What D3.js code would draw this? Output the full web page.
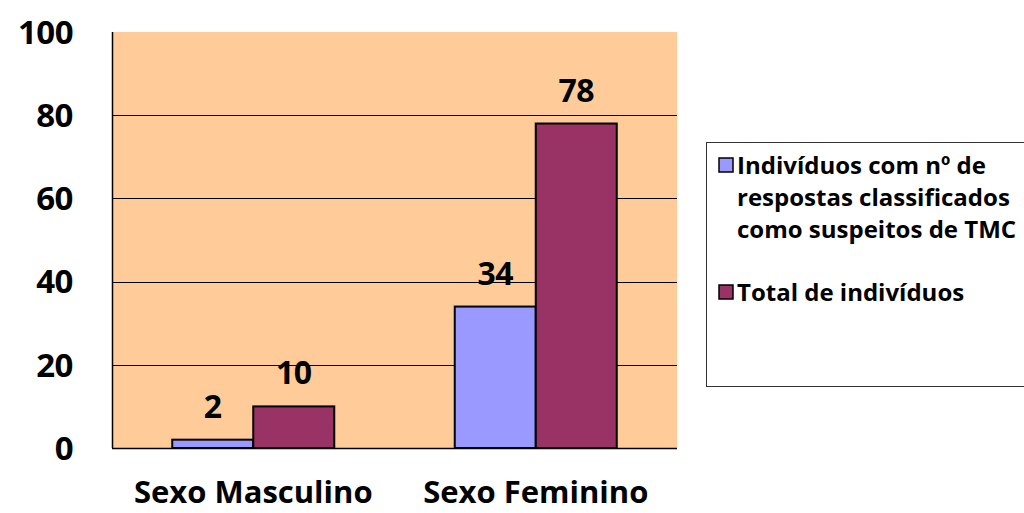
<!DOCTYPE html>
<html>
<head>
<meta charset="utf-8">
<script src="https://cdn.jsdelivr.net/npm/d3@7"></script>
<style>
  body { margin: 0; background: #fff; }
  svg { display: block; font-family: "Open Sans", "Noto Sans", sans-serif; font-weight: bold; }
</style>
</head>
<body>
<div id="chart"></div>
<script>
const categories = [`Sexo Masculino`, `Sexo Feminino`];
const seriesNames = [`suspeitos`, `total`];
const suspeitos = [2, 34];
const total = [10, 78];
const yTicks = [0, 20, 40, 60, 80, 100];
const legendLines = [
  [`Indivíduos com nº de`, `respostas classificados`, `como suspeitos de TMC`],
  [`Total de indivíduos`]
];
const colors = [`#9999ff`, `#993366`];

const width = 1024;
const height = 513;
const plot = { left: 112, top: 32, right: 677, bottom: 448 };

const svg = d3.select(`#chart`).append(`svg`)
    .attr(`width`, width)
    .attr(`height`, height);

const y = d3.scaleLinear()
  .domain([0, 100])
  .range([plot.bottom, plot.top]);

const x0 = d3.scaleBand()
  .domain(categories)
  .range([plot.left, plot.right])
  .paddingInner(0.4265)
  .paddingOuter(0.21325);

const x1 = d3.scaleBand()
  .domain(seriesNames)
  .range([0, x0.bandwidth()]);

// plot background
svg.append(`rect`)
    .attr(`x`, plot.left)
    .attr(`y`, plot.top)
    .attr(`width`, plot.right - plot.left)
    .attr(`height`, plot.bottom - plot.top)
    .attr(`fill`, `#ffcc99`);

// gridlines
svg.append(`g`).selectAll(`line`)
    .data(yTicks.filter((d) => d > 0 && d < 100))
  .enter().append(`line`)
    .attr(`x1`, plot.left)
    .attr(`x2`, plot.right)
    .attr(`y1`, (d) => Math.round(y(d)) + 0.5)
    .attr(`y2`, (d) => Math.round(y(d)) + 0.5)
    .attr(`stroke`, `#000`)
    .attr(`stroke-width`, 1.2);

// y tick labels
svg.append(`g`).selectAll(`text`)
    .data(yTicks)
  .enter().append(`text`)
    .attr(`x`, 73)
    .attr(`y`, (d) => y(d))
    .attr(`dy`, `0.36em`)
    .attr(`text-anchor`, `end`)
    .attr(`font-size`, 33)
    .attr(`letter-spacing`, -0.5)
    .text((d) => d);

// bars
const rows = categories.map((c, i) => ({ cat: c, values: [suspeitos[i], total[i]] }));

const groups = svg.append(`g`).selectAll(`g`)
    .data(rows)
  .enter().append(`g`)
    .attr(`transform`, (d) => `translate(${x0(d.cat)},0)`);

groups.selectAll(`rect`)
    .data((d) => d.values.map((v, j) => ({ key: seriesNames[j], value: v, color: colors[j] })))
  .enter().append(`rect`)
    .attr(`x`, (d) => x1(d.key))
    .attr(`y`, (d) => y(d.value))
    .attr(`width`, x1.bandwidth())
    .attr(`height`, (d) => y(0) - y(d.value))
    .attr(`fill`, (d) => d.color)
    .attr(`stroke`, `#000`)
    .attr(`stroke-width`, 2);

groups.selectAll(`text`)
    .data((d) => d.values.map((v, j) => ({ key: seriesNames[j], value: v })))
  .enter().append(`text`)
    .attr(`x`, (d) => x1(d.key) + x1.bandwidth() / 2)
    .attr(`y`, (d) => y(d.value) - 22)
    .attr(`text-anchor`, `middle`)
    .attr(`font-size`, 32)
    .attr(`letter-spacing`, -0.5)
    .text((d) => d.value);

// axis lines
svg.append(`line`)
    .attr(`x1`, plot.left + 0.5).attr(`x2`, plot.left + 0.5)
    .attr(`y1`, plot.top).attr(`y2`, plot.bottom)
    .attr(`stroke`, `#000`).attr(`stroke-width`, 1.5);
svg.append(`line`)
    .attr(`x1`, plot.left).attr(`x2`, plot.right)
    .attr(`y1`, plot.bottom + 0.5).attr(`y2`, plot.bottom + 0.5)
    .attr(`stroke`, `#000`).attr(`stroke-width`, 1.5);

// category labels
svg.append(`g`).selectAll(`text`)
    .data(categories)
  .enter().append(`text`)
    .attr(`x`, (d) => x0(d) + x0.bandwidth() / 2)
    .attr(`y`, 503)
    .attr(`text-anchor`, `middle`)
    .attr(`font-size`, 31)
    .text((d) => d);

// legend
const legend = svg.append(`g`);
legend.append(`rect`)
    .attr(`x`, 706.5)
    .attr(`y`, 142.5)
    .attr(`width`, 330)
    .attr(`height`, 244)
    .attr(`fill`, `#fff`)
    .attr(`stroke`, `#333`)
    .attr(`stroke-width`, 1);

const legendY = [165, 292];
legendLines.forEach((lines, i) => {
  legend.append(`rect`)
      .attr(`x`, 719)
      .attr(`y`, legendY[i] - 7)
      .attr(`width`, 14)
      .attr(`height`, 14)
      .attr(`fill`, colors[i])
      .attr(`stroke`, `#000`)
      .attr(`stroke-width`, 1.5);
  legend.append(`text`)
      .attr(`font-size`, 24)
      .selectAll(`tspan`)
      .data(lines)
    .enter().append(`tspan`)
      .attr(`x`, 737)
      .attr(`y`, (d, k) => legendY[i] + k * 32)
      .attr(`dy`, `0.36em`)
      .text((d) => d);
});
</script>
</body>
</html>
